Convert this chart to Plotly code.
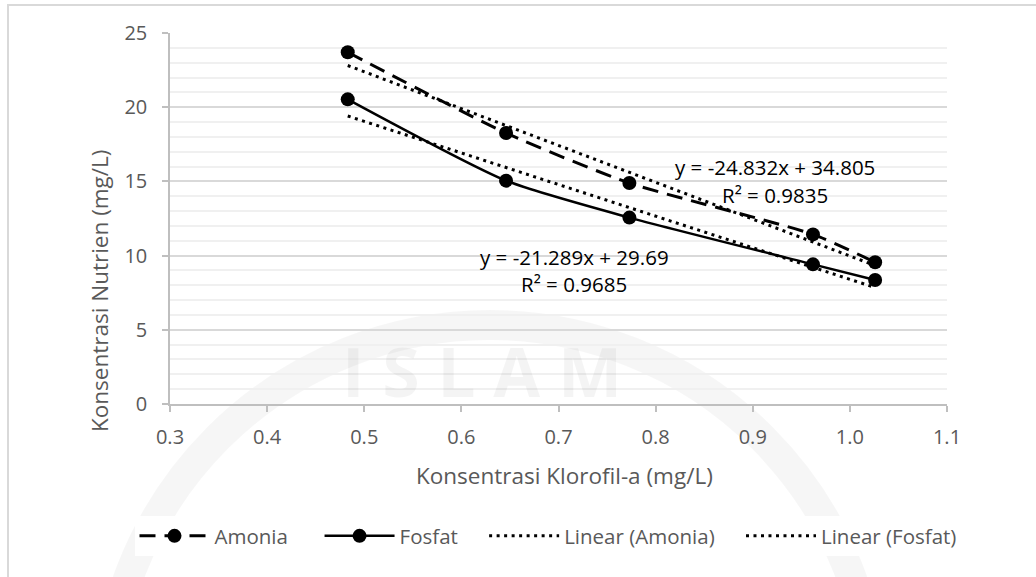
import plotly.graph_objects as go

# Chlorophyll-a concentration (mg/L) and nutrient concentrations (mg/L)
klorofil = [0.483, 0.646, 0.773, 0.962, 1.026]
amonia = [23.70, 18.26, 14.89, 11.43, 9.55]
fosfat = [20.53, 15.05, 12.56, 9.41, 8.36]

# Linear trendline coefficients and R² values
amonia_fit = {"slope": -24.832, "intercept": 34.805, "r2": 0.9835}
fosfat_fit = {"slope": -21.289, "intercept": 29.69, "r2": 0.9685}

series_names = ["Amonia", "Fosfat", "Linear (Amonia)", "Linear (Fosfat)"]

x_ticks = [0.3, 0.4, 0.5, 0.6, 0.7, 0.8, 0.9, 1.0, 1.1]
y_ticks = [0, 5, 10, 15, 20, 25]

x_title = "Konsentrasi Klorofil-a (mg/L)"
y_title = "Konsentrasi Nutrien (mg/L)"

W, H = 1036, 577
# plot area in pixels: x 170..947, y 33..404
PL, PR, MT, MB = 170, 947, 33, 173
PH = H - MT - MB

FONT = "Open Sans"
GREY = "#595959"
TICK_SIZE = 20
TEXT_SIZE = 20.5
TITLE_SIZE = 22.5

# extra spacing after each legend entry (non-breaking spaces)
legend_pad = [5, 4, 4, 0]


def trend(fit):
    xs = [min(klorofil), max(klorofil)]
    return xs, [fit["slope"] * x + fit["intercept"] for x in xs]


def px_x(p):
    return p / W


def px_y(p):
    return (H - MB - p) / PH


def legend_name(i):
    return series_names[i] + "\u00a0" * legend_pad[i]


fig = go.Figure()

fig.add_trace(go.Scatter(
    x=klorofil, y=amonia, name=legend_name(0), mode="lines+markers",
    line=dict(color="black", width=3, dash="16px,9px", shape="spline", smoothing=0.6),
    marker=dict(symbol="circle", size=14, color="black"),
))
fig.add_trace(go.Scatter(
    x=klorofil, y=fosfat, name=legend_name(1), mode="lines+markers",
    line=dict(color="black", width=2.5, shape="spline", smoothing=0.6),
    marker=dict(symbol="circle", size=14, color="black"),
))
tx, ty = trend(amonia_fit)
fig.add_trace(go.Scatter(
    x=tx, y=ty, name=legend_name(2), mode="lines",
    line=dict(color="black", width=3, dash="3px,4.5px"),
))
tx, ty = trend(fosfat_fit)
fig.add_trace(go.Scatter(
    x=tx, y=ty, name=legend_name(3), mode="lines",
    line=dict(color="black", width=3, dash="3px,4.5px"),
))


def eq_text(fit):
    return f"y = {fit['slope']}x + {fit['intercept']}", f"R² = {fit['r2']}"


annotations = []
for fit, cx, y1, y2 in [(amonia_fit, 0.923, 15.97, 14.08), (fosfat_fit, 0.716, 9.9, 8.09)]:
    l1, l2 = eq_text(fit)
    for txt, yy in [(l1, y1), (l2, y2)]:
        annotations.append(dict(
            x=cx, y=yy, xref="x", yref="y", text=txt, showarrow=False,
            font=dict(family=FONT, size=TEXT_SIZE, color="black"),
            xanchor="center", yanchor="middle",
        ))

# axis titles
annotations.append(dict(
    x=px_x(564), y=px_y(475), xref="paper", yref="paper", text=x_title,
    showarrow=False, font=dict(family=FONT, size=TITLE_SIZE, color=GREY),
    xanchor="center", yanchor="middle",
))
annotations.append(dict(
    x=px_x(99), y=px_y(291), xref="paper", yref="paper", text=y_title, textangle=-90,
    showarrow=False, font=dict(family=FONT, size=TITLE_SIZE, color=GREY),
    xanchor="center", yanchor="middle",
))

# faint background logo lettering
annotations.append(dict(
    x=px_x(482), y=px_y(370), xref="paper", yref="paper", text="<b>I S L A M</b>",
    showarrow=False, font=dict(family=FONT, size=68, color="rgba(0,0,0,0.045)"),
    xanchor="center", yanchor="middle",
))

shapes = [
    # chart area border
    dict(type="rect", xref="paper", yref="paper",
         x0=px_x(8), x1=px_x(W + 20), y0=px_y(H + 20), y1=px_y(5),
         line=dict(color="#d9d9d9", width=2), fillcolor="rgba(0,0,0,0)", layer="below"),
    # faint background logo ring
    dict(type="circle", xref="paper", yref="paper",
         x0=px_x(105), x1=px_x(875), y0=px_y(1095), y1=px_y(325),
         line=dict(color="rgba(0,0,0,0.035)", width=30), fillcolor="rgba(0,0,0,0)", layer="below"),
]

fig.update_layout(
    width=W, height=H,
    margin=dict(l=0, r=0, t=MT, b=MB, autoexpand=False),
    paper_bgcolor="white", plot_bgcolor="rgba(0,0,0,0)",
    font=dict(family=FONT, color=GREY, size=TEXT_SIZE),
    showlegend=True,
    legend=dict(
        orientation="h", x=px_x(548), xanchor="center", y=px_y(536), yanchor="middle",
        font=dict(family=FONT, size=TEXT_SIZE, color=GREY), itemwidth=70,
        traceorder="normal", itemclick=False,
    ),
    annotations=annotations,
    shapes=shapes,
)

fig.update_xaxes(
    domain=[PL / W, PR / W],
    range=[0.3, 1.1], tickvals=x_ticks, ticktext=[f"{v:.1f}" for v in x_ticks],
    showgrid=False, showline=True, linecolor="#bfbfbf", linewidth=1.5,
    ticks="outside", ticklen=6, tickcolor="#bfbfbf", tickwidth=1.5,
    ticklabelstandoff=8,
    tickfont=dict(family=FONT, size=TICK_SIZE, color=GREY),
    zeroline=False,
)
fig.update_yaxes(
    range=[0, 25], tickvals=y_ticks,
    showgrid=True, gridcolor="#d9d9d9", gridwidth=1.5,
    minor=dict(dtick=1, showgrid=True, gridcolor="#f0f0f0", gridwidth=1.5),
    showline=True, linecolor="#bfbfbf", linewidth=1.5,
    ticks="outside", ticklen=6, tickcolor="#bfbfbf", tickwidth=1.5,
    ticklabelstandoff=11,
    tickfont=dict(family=FONT, size=TICK_SIZE, color=GREY),
    zeroline=False,
)

fig.write_html("out.html")
